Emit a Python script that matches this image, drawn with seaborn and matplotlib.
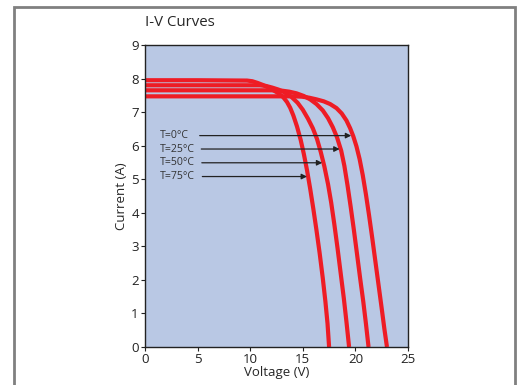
import pandas as pd
import numpy as np
import matplotlib.pyplot as plt
import seaborn as sns
from matplotlib.patches import Rectangle

# curve points (voltage V, current A)
temps = ['T=0°C', 'T=25°C', 'T=50°C', 'T=75°C']

v_t0 = [0, 5, 10, 14.2, 14.9, 15.6, 16.3, 17.0, 17.6, 18.2, 18.7, 19.15, 19.5, 19.8, 20.1,
        20.4, 20.7, 21.0, 21.3, 21.6, 21.9, 22.2, 22.5, 22.75, 23.0]
i_t0 = [7.47, 7.47, 7.47, 7.47, 7.46, 7.43, 7.38, 7.32, 7.24, 7.12, 6.96, 6.75, 6.52, 6.28, 5.98,
        5.60, 5.12, 4.55, 3.92, 3.25, 2.55, 1.85, 1.15, 0.55, 0.0]

v_t25 = [0, 5, 10, 12.3, 13.0, 13.7, 14.4, 15.1, 15.7, 16.3, 16.9, 17.4, 17.85, 18.25, 18.65,
         18.95, 19.25, 19.55, 19.85, 20.15, 20.45, 20.75, 21.0, 21.25]
i_t25 = [7.65, 7.65, 7.65, 7.65, 7.64, 7.61, 7.56, 7.48, 7.38, 7.24, 7.05, 6.82, 6.55, 6.25, 5.85,
         5.40, 4.82, 4.18, 3.50, 2.78, 2.05, 1.35, 0.70, 0.0]

v_t50 = [0, 5, 10.9, 11.5, 12.1, 12.7, 13.3, 13.9, 14.5, 15.0, 15.5, 15.95, 16.35, 16.7, 17.05,
         17.4, 17.7, 18.0, 18.3, 18.6, 18.9, 19.15, 19.4]
i_t50 = [7.80, 7.80, 7.80, 7.78, 7.73, 7.67, 7.58, 7.46, 7.28, 7.07, 6.80, 6.52, 6.20, 5.82, 5.38,
         4.85, 4.30, 3.65, 2.95, 2.20, 1.45, 0.75, 0.0]

v_t75 = [0, 5, 9.7, 10.2, 10.7, 11.2, 11.7, 12.2, 12.7, 13.15, 13.5, 13.8, 14.1, 14.45, 14.8,
         15.1, 15.4, 15.7, 16.0, 16.3, 16.6, 16.9, 17.15, 17.35, 17.5]
i_t75 = [7.95, 7.95, 7.94, 7.92, 7.87, 7.81, 7.74, 7.65, 7.56, 7.44, 7.30, 7.13, 6.90, 6.57, 6.17,
         5.75, 5.27, 4.72, 4.12, 3.48, 2.80, 2.05, 1.35, 0.70, 0.0]

# annotation arrows: label height, arrow start, arrow tip on curve
label_y = [6.3, 5.9, 5.49, 5.08]
arrow_start = [5.2, 5.35, 5.4, 5.45]
arrow_tip = [19.6, 18.5, 16.85, 15.4]

frames = []
for t, v, i in zip(temps, [v_t0, v_t25, v_t50, v_t75], [i_t0, i_t25, i_t50, i_t75]):
    frames.append(pd.DataFrame({'temp': t, 'voltage': v, 'current': i}))
df = pd.concat(frames, ignore_index=True)

sns.set_style('ticks')
plt.rcParams['font.family'] = ['Open Sans', 'DejaVu Sans']

fig = plt.figure(figsize=(5.24, 3.85), dpi=100)
ax = fig.add_axes([145/524, 1-347/385, 263/524, 302/385])
ax.set_facecolor('#b9c8e4')

red = '#ee1c25'
sns.lineplot(data=df, x='voltage', y='current', hue='temp', units='temp',
             estimator=None, sort=False, palette=[red]*4, linewidth=3,
             legend=False, ax=ax, solid_joinstyle='round', solid_capstyle='butt')

for lab, y, x0, x1 in zip(temps, label_y, arrow_start, arrow_tip):
    ax.text(1.45, y, lab, fontsize=7.6, color='#333333', va='center', ha='left')
    ax.annotate('', xy=(x1, y), xytext=(x0, y),
                arrowprops=dict(arrowstyle='-|>', color='#222222', lw=0.9,
                                mutation_scale=8, shrinkA=0, shrinkB=0))

ax.set_xlim(0, 25)
ax.set_ylim(0, 9)
ax.set_xticks(range(0, 26, 5))
ax.set_yticks(range(0, 10))
ax.tick_params(axis='both', labelsize=9.5, length=3, width=0.8, pad=1.5, colors='#222222')
for s in ax.spines.values():
    s.set_linewidth(1.0)
    s.set_color('#222222')
ax.set_xlabel('Voltage (V)', fontsize=9.5, labelpad=0)
ax.set_ylabel('Current (A)', fontsize=9.5, labelpad=2)

fig.text(145/524, 1-23/385, 'I-V Curves', fontsize=10.8, ha='left', va='center')

# outer grey frame
fig.patches.append(Rectangle((14/524, -0.05), (515-14)/524, 1.05-7.5/385,
                             transform=fig.transFigure, fill=False,
                             edgecolor='#808080', linewidth=2))

fig.savefig('out.png', dpi=100)
